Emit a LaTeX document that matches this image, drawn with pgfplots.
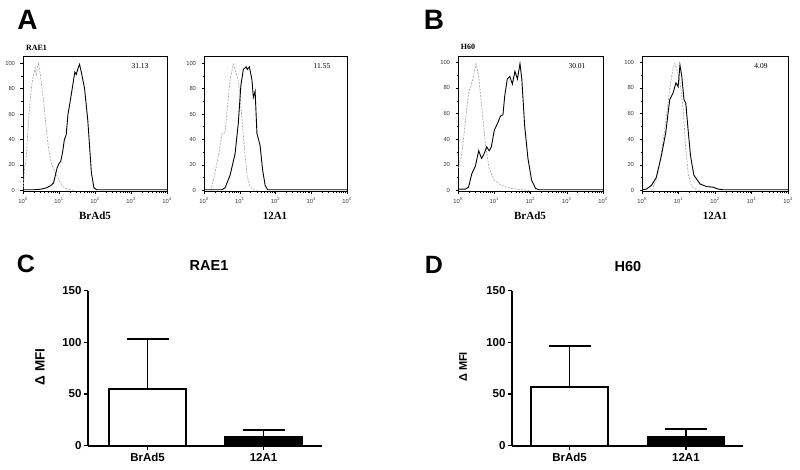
\documentclass[border=0pt]{standalone}
\usepackage{fontspec}
\setmainfont{Liberation Sans}
\newfontfamily\serif{Liberation Serif}
\usepackage{pgfplots}
\pgfplotsset{compat=1.18}
\pgfplotsset{
  hist/.style={
    scale only axis, anchor=south west,
    xmin=0, xmax=4, ymin=-1, ymax=105,
    xtick={0,1,2,3,4},
    xticklabels={10\textsuperscript{0},10\textsuperscript{1},10\textsuperscript{2},10\textsuperscript{3},10\textsuperscript{4}},
    minor xtick={0.301,0.477,0.602,0.699,0.778,0.845,0.903,0.954,
                 1.301,1.477,1.602,1.699,1.778,1.845,1.903,1.954,
                 2.301,2.477,2.602,2.699,2.778,2.845,2.903,2.954,
                 3.301,3.477,3.602,3.699,3.778,3.845,3.903,3.954},
    ytick={0,20,40,60,80,100}, minor y tick num=1,
    tick pos=left, tick align=outside,
    major tick length=2.5pt, minor tick length=1.5pt,
    every tick/.style={black, line width=0.5pt},
    tick label style={font=\fontsize{5.8}{6}\selectfont, text=black!80},
    yticklabel style={xshift=-2pt},
    /pgf/number format/assume math mode=true,
    axis line style={line width=0.8pt},
  },
  iso/.style={gray!70, line width=0.65pt, dash pattern=on 2pt off 1.3pt},
  ab/.style={black, line width=0.9pt},
  barax/.style={
    scale only axis, anchor=south west,
    ymin=0, ymax=150, ytick={0,50,100,150},
    xtick={0,1}, xticklabels={BrAd5,12A1},
    axis lines=left, axis line style={line width=1.8pt, -},
    tick align=outside, tick pos=left, major tick length=4pt,
    every tick/.style={line width=1.6pt, black},
    tick label style={font=\bfseries\fontsize{11.5}{12}\selectfont},
    yticklabel style={xshift=1pt},
    /pgf/number format/assume math mode=true,
  },
  bb/.style={ybar, bar shift=0pt, bar width=77pt, draw=black, line width=1.8pt,
    error bars/.cd, y dir=plus, y explicit,
    error bar style={line width=1.8pt, black},
    error mark options={rotate=90, mark size=21pt, line width=1.8pt, black}},
}
\begin{document}
\begin{tikzpicture}
\path[use as bounding box] (0,0) rectangle (800pt,470pt);

% ---------- A1
\begin{axis}[hist, at={(23pt,278.3pt)}, width=144pt, height=135pt]
\addplot[iso] coordinates {(0,0) (0.02,8) (0.05,20) (0.08,22) (0.12,40) (0.18,65) (0.24,82) (0.3,92) (0.34,96) (0.37,90) (0.4,97) (0.43,100) (0.47,93) (0.52,82) (0.58,68) (0.64,50) (0.7,35) (0.76,25) (0.8,20) (0.86,17) (0.92,13) (1.0,8) (1.08,4) (1.18,1.5) (1.3,0.5) (1.45,0)};
\addplot[ab] coordinates {(0,0.5) (0.3,0.5) (0.5,1) (0.65,2) (0.78,4) (0.85,6) (0.9,12) (0.95,18) (1.0,21) (1.05,23) (1.1,30) (1.15,40) (1.18,42) (1.2,44) (1.25,60) (1.3,68) (1.39,84) (1.44,93) (1.48,91) (1.53,96) (1.57,99) (1.62,93) (1.71,80) (1.8,55) (1.9,14) (1.97,2) (2.05,0.5) (4,0.5)};
\end{axis}
% ---------- A2
\begin{axis}[hist, at={(204pt,278.3pt)}, width=143pt, height=135pt]
\addplot[iso] coordinates {(0.19,0) (0.31,14) (0.4,27) (0.5,44) (0.59,46) (0.64,61) (0.73,87) (0.82,99) (0.87,95) (0.96,86) (1.01,74) (1.08,50) (1.15,27) (1.21,11) (1.29,3) (1.38,0.5) (1.5,0)};
\addplot[ab] coordinates {(0,0.5) (0.5,0.5) (0.59,2) (0.73,12) (0.87,29) (0.96,53) (1.03,82) (1.1,95) (1.18,97) (1.21,95) (1.27,97) (1.34,87) (1.38,73) (1.43,78) (1.48,45) (1.57,35) (1.64,16) (1.71,4) (1.78,0.5) (4,0.5)};
\end{axis}
% ---------- B1
\begin{axis}[hist, at={(458pt,278.3pt)}, width=145pt, height=135.7pt]
\addplot[iso] coordinates {(0,17) (0.1,27) (0.19,50) (0.29,76) (0.35,81) (0.41,87) (0.5,99) (0.57,89) (0.67,61) (0.76,35) (0.86,17) (1.0,8) (1.14,5) (1.29,3) (1.48,1.5) (1.76,0.5) (2,0)};
\addplot[ab] coordinates {(0,1) (0.2,1) (0.29,2.5) (0.38,13) (0.48,19) (0.57,31) (0.65,25) (0.71,28) (0.79,34) (0.86,31) (0.92,34) (1.0,47) (1.1,53) (1.17,58) (1.24,59) (1.29,74) (1.36,87) (1.43,89) (1.5,83) (1.57,93) (1.64,87) (1.71,99) (1.76,87) (1.84,50) (1.93,25) (2.03,8) (2.14,1.5) (2.24,0.5) (4,0.5)};
\end{axis}
% ---------- B2
\begin{axis}[hist, at={(642pt,278.3pt)}, width=146pt, height=135.7pt]
\addplot[iso] coordinates {(0.26,0) (0.39,8) (0.5,24) (0.6,43) (0.69,63) (0.78,84) (0.85,95) (0.9,99) (0.96,94) (1.04,85) (1.13,63) (1.2,32) (1.27,12) (1.36,3) (1.5,0.5) (1.6,0)};
\addplot[ab] coordinates {(0,0.5) (0.12,1) (0.26,4) (0.39,10) (0.53,27) (0.65,45) (0.76,71) (0.85,76) (0.93,84) (0.99,81) (1.04,98) (1.09,89) (1.15,71) (1.2,68) (1.27,45) (1.33,27) (1.42,12) (1.59,5) (1.77,3) (1.95,2.5) (2.09,1) (2.23,0.5) (4,0.5)};
\end{axis}

% ---------- C
\begin{axis}[barax, at={(88pt,24.3pt)}, width=234pt, height=155pt, xmin=-0.513, xmax=1.504]
\addplot[fill=white, bb] coordinates {(0,55.2) +- (0,48.4)};
\addplot[fill=black, bb] coordinates {(1,8.7) +- (0,6.5)};
\end{axis}
% ---------- D
\begin{axis}[barax, at={(512pt,24.3pt)}, width=231pt, height=155pt, xmin=-0.494, xmax=1.49]
\addplot[fill=white, bb] coordinates {(0,56.5) +- (0,40.3)};
\addplot[fill=black, bb] coordinates {(1,8.7) +- (0,7.2)};
\end{axis}

% ---------- text
\node[font=\bfseries\fontsize{28}{28}\selectfont] at (27.5pt,450pt) {A};
\node[font=\bfseries\fontsize{28}{28}\selectfont] at (434pt,450pt) {B};
\node[font=\bfseries\fontsize{25}{25}\selectfont] at (26pt,206pt) {C};
\node[font=\bfseries\fontsize{25}{25}\selectfont] at (434pt,205pt) {D};

\node[font=\serif\bfseries\fontsize{8}{9}\selectfont] at (36.5pt,422.5pt) {RAE1};
\node[font=\serif\bfseries\fontsize{8}{9}\selectfont] at (468pt,423pt) {H60};
\node[font=\serif\bfseries\fontsize{11}{12}\selectfont] at (95pt,254.5pt) {BrAd5};
\node[font=\serif\bfseries\fontsize{11}{12}\selectfont] at (275pt,254.5pt) {12A1};
\node[font=\serif\bfseries\fontsize{11}{12}\selectfont] at (530pt,254.5pt) {BrAd5};
\node[font=\serif\bfseries\fontsize{11}{12}\selectfont] at (715pt,254.5pt) {12A1};
\node[font=\serif\fontsize{7.5}{8}\selectfont] at (140pt,404pt) {31.13};
\node[font=\serif\fontsize{7.5}{8}\selectfont] at (322pt,404pt) {11.55};
\node[font=\serif\fontsize{7.5}{8}\selectfont] at (577pt,404pt) {30.01};
\node[font=\serif\fontsize{7.5}{8}\selectfont] at (761pt,404pt) {4.09};

\node[font=\bfseries\fontsize{14.5}{15}\selectfont] at (209pt,204pt) {RAE1};
\node[font=\bfseries\fontsize{14.5}{15}\selectfont] at (628pt,203pt) {H60};
\node[font=\bfseries\fontsize{13.5}{14}\selectfont, rotate=90] at (40pt,103pt) {Δ MFI};
\node[font=\bfseries\fontsize{11}{12}\selectfont, rotate=90] at (463pt,103pt) {Δ MFI};
\end{tikzpicture}
\end{document}
